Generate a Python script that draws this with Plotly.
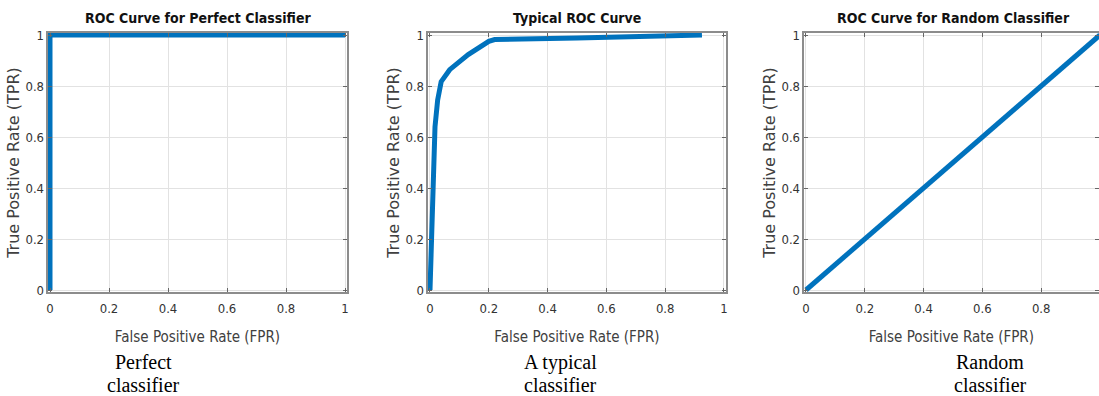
import plotly.graph_objects as go

# Data
perfect_fpr = [0, 0, 1]
perfect_tpr = [0, 1, 1]

typical_fpr = [0, 0.006, 0.009, 0.017, 0.026, 0.038, 0.067, 0.13, 0.2, 0.22, 0.5, 0.925]
typical_tpr = [0, 0.255, 0.48, 0.64, 0.745, 0.817, 0.864, 0.923, 0.975, 0.982, 0.988, 1.0]

random_fpr = [0, 1]
random_tpr = [0, 1]

titles = ["ROC Curve for Perfect Classifier", "Typical ROC Curve", "ROC Curve for Random Classifier"]
caption_line1 = ["Perfect", "A typical", "Random"]
caption_line2 = ["classifier", "classifier", "classifier"]
tick_vals = [0, 0.2, 0.4, 0.6, 0.8, 1]
tick_text = ["0", "0.2", "0.4", "0.6", "0.8", "1"]

OFF = 0
W, H = 1099, 396
LINE = "#0072BD"
NARROW = "DejaVu Sans Condensed, Liberation Sans Narrow, Liberation Sans, sans-serif"
PAD = 0.008

# window-pixel positions of data 0 and 1 on each x axis
x_px = [(50, 345), (430, 724), (806, 1100)]
y_px = (290, 35)  # data 0, data 1 (window pixels)


def px_x(p):
    return (p - OFF) / W


def px_y(p):
    return 1 - (p - OFF) / H


fig = go.Figure()
series = [(perfect_fpr, perfect_tpr), (typical_fpr, typical_tpr), (random_fpr, random_tpr)]
yspan = y_px[0] - y_px[1]
y_dom = [px_y(y_px[0] + PAD * yspan), min(1, px_y(y_px[1] - PAD * yspan))]
for i, (xs, ys) in enumerate(series):
    k = "" if i == 0 else str(i + 1)
    fig.add_trace(go.Scatter(x=xs, y=ys, mode="lines", line=dict(color=LINE, width=5),
                             xaxis="x" + k, yaxis="y" + k, showlegend=False, cliponaxis=False,
                             hoverinfo="skip"))
    p0, p1 = x_px[i]
    span = p1 - p0
    ttext = list(tick_text)
    if i == 2:
        ttext[-1] = ""
    rng_hi = 1 + PAD
    dom_hi = px_x(p1 + PAD * span)
    if dom_hi > 1:
        # axis cut at the page edge, as in the reference
        rng_hi = 1 + PAD - (dom_hi - 1) * W / span
        dom_hi = 1
    common = dict(tickvals=tick_vals, ticks="inside", ticklen=4,
                  tickcolor="#666666", showline=True, linecolor="#8c8c8c", linewidth=2,
                  mirror="allticks", showgrid=True, gridcolor="#e2e2e2", gridwidth=1,
                  zeroline=False, automargin=False,
                  tickfont=dict(family=NARROW, size=13, color="#333333"))
    ax = dict(common, range=[-PAD, rng_hi], domain=[px_x(p0 - PAD * span), dom_hi], ticktext=ttext,
              ticklabelstandoff=3,
              title=dict(text="False Positive Rate (FPR)", standoff=17,
                         font=dict(family=NARROW, size=15, color="#404040")),
              anchor="y" + k)
    ay = dict(common, range=[-PAD, 1 + PAD], domain=y_dom, ticktext=tick_text, ticklabelstandoff=-1,
              title=dict(text="True Positive Rate (TPR)", standoff=2,
                         font=dict(family="DejaVu Sans, Liberation Sans, sans-serif", size=16, color="#404040")),
              anchor="x" + k)
    fig.update_layout(**{"xaxis" + k: ax, "yaxis" + k: ay})
    cx = px_x((p0 + p1) / 2)
    fig.add_annotation(text="<b>" + titles[i] + "</b>", x=cx, y=px_y(18), xref="paper", yref="paper",
                       showarrow=False, font=dict(family=NARROW, size=14, color="#111111"),
                       xanchor="center", yanchor="middle")

cap_x = [143, 560, 990]
serif = "Liberation Serif, Times New Roman, serif"
for i in range(3):
    fig.add_annotation(text=caption_line1[i], x=px_x(cap_x[i]), y=px_y(362), xref="paper", yref="paper",
                       showarrow=False, font=dict(family=serif, size=20, color="#000000"),
                       xanchor="center", yanchor="middle")
    fig.add_annotation(text=caption_line2[i], x=px_x(cap_x[i]), y=px_y(385), xref="paper", yref="paper",
                       showarrow=False, font=dict(family=serif, size=20, color="#000000"),
                       xanchor="center", yanchor="middle")

fig.update_layout(width=W, height=H, margin=dict(l=0, r=0, t=0, b=0),
                  paper_bgcolor="white", plot_bgcolor="white", hovermode=False)

fig.write_html("out.html", config={"displayModeBar": False},
               post_script="document.body.style.margin='0';document.body.style.overflow='hidden';")
